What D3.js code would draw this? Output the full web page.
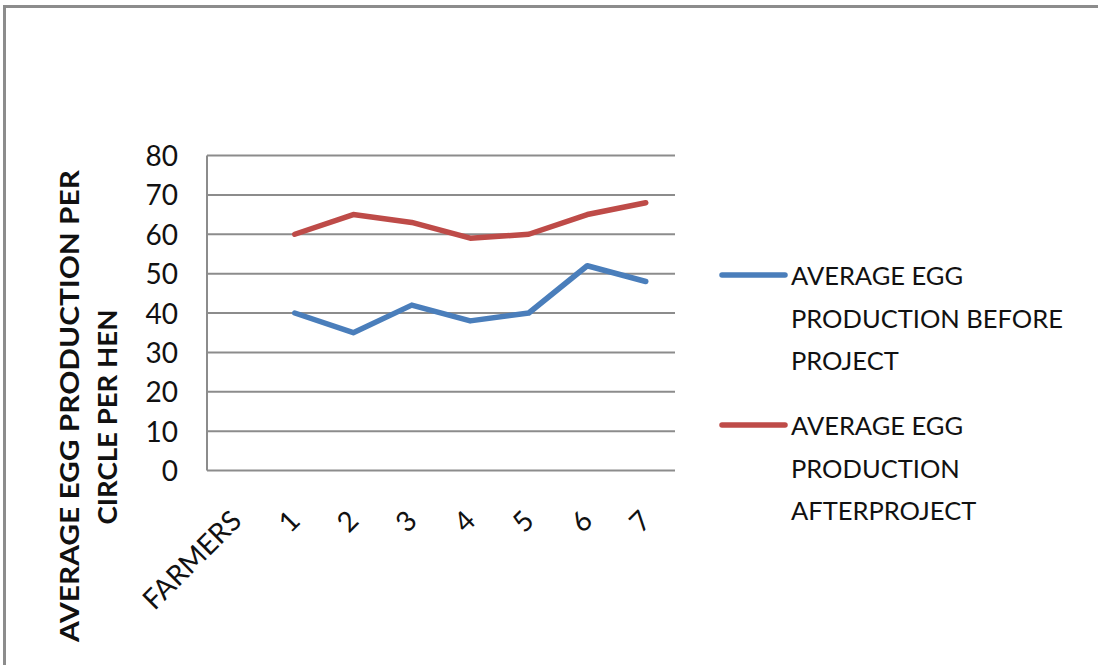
<!DOCTYPE html>
<html>
<head>
<meta charset="utf-8">
<script src="https://cdn.jsdelivr.net/npm/d3@7"></script>
<style>
  html, body { margin: 0; padding: 0; background: #fff; }
  svg { display: block; }
</style>
</head>
<body>
<svg id="chart" width="1098" height="665"></svg>
<script>
// Category axis: a header slot followed by the farmer numbers
const categories = ["FARMERS", "1", "2", "3", "4", "5", "6", "7"];
const farmers = ["1", "2", "3", "4", "5", "6", "7"];
const beforeProject = [40, 35, 42, 38, 40, 52, 48];
const afterProject = [60, 65, 63, 59, 60, 65, 68];
const yTicks = [0, 10, 20, 30, 40, 50, 60, 70, 80];
const seriesNames = [
  ["AVERAGE EGG", "PRODUCTION BEFORE", "PROJECT"],
  ["AVERAGE EGG", "PRODUCTION", "AFTERPROJECT"]
];
const yTitle = ["AVERAGE EGG PRODUCTION PER", "CIRCLE PER HEN"];

const colors = ["#4a7ebb", "#be4b48"];
const font = "Lato, 'Open Sans', sans-serif";

const svg = d3.select("#chart");

// outer frame
svg.append("rect")
  .attr("x", 4.5).attr("y", 6.5)
  .attr("width", 1200).attr("height", 800)
  .attr("fill", "none").attr("stroke", "#8c8c8c").attr("stroke-width", 3);

const plot = { left: 207, right: 675, top: 155.5, bottom: 470.5 };

const x = d3.scaleBand().domain(categories).range([plot.left, plot.right]).padding(0);
const y = d3.scaleLinear().domain([0, 80]).range([plot.bottom, plot.top]);

// horizontal gridlines
svg.append("g")
  .selectAll("line")
  .data(yTicks)
  .join("line")
  .attr("x1", plot.left).attr("x2", plot.right)
  .attr("y1", d => y(d)).attr("y2", d => y(d))
  .attr("stroke", "#8c8c8c").attr("stroke-width", 2);

// y axis line
svg.append("line")
  .attr("x1", plot.left).attr("x2", plot.left)
  .attr("y1", plot.top).attr("y2", plot.bottom)
  .attr("stroke", "#8c8c8c").attr("stroke-width", 2);

// y axis labels
const yAxis = d3.axisLeft(y).tickValues(yTicks).tickSize(0).tickPadding(29);
const yg = svg.append("g").attr("transform", `translate(${plot.left},0)`).call(yAxis);
yg.select(".domain").remove();
yg.selectAll("text")
  .attr("font-family", font).attr("font-size", 28).attr("fill", "#111")
  .attr("dy", "0.36em");

// x axis labels, rotated
const xAxis = d3.axisBottom(x).tickSize(0).tickPadding(0);
const xg = svg.append("g").attr("transform", `translate(0,${plot.bottom})`).call(xAxis);
xg.select(".domain").remove();
xg.selectAll("text")
  .attr("font-family", font).attr("font-size", 28).attr("fill", "#111")
  .attr("text-anchor", "end")
  .attr("dy", null).attr("y", 0)
  .attr("transform", "translate(7,52) rotate(-45)");

// series lines
const line = d3.line()
  .x((d, i) => x(farmers[i]) + x.bandwidth() / 2)
  .y(d => y(d));

[beforeProject, afterProject].forEach((vals, k) => {
  svg.append("path")
    .datum(vals)
    .attr("d", line)
    .attr("fill", "none")
    .attr("stroke", colors[k])
    .attr("stroke-width", 5.5)
    .attr("stroke-linejoin", "round")
    .attr("stroke-linecap", "round");
});

// legend
const legendY = [275, 425];
seriesNames.forEach((lines, k) => {
  const g = svg.append("g");
  g.append("line")
    .attr("x1", 722).attr("x2", 785)
    .attr("y1", legendY[k]).attr("y2", legendY[k])
    .attr("stroke", colors[k]).attr("stroke-width", 5.5)
    .attr("stroke-linecap", "round");
  g.selectAll("text")
    .data(lines)
    .join("text")
    .attr("x", 791)
    .attr("y", (d, i) => legendY[k] + 10 + i * 42.5)
    .attr("font-family", font).attr("font-size", 25.5).attr("fill", "#111")
    .text(d => d);
});

// y axis title, two rotated lines
const titleLen = [472, 215];
const tg = svg.append("text")
  .attr("transform", "rotate(-90)")
  .attr("font-family", font).attr("font-size", 26).attr("font-weight", "bold")
  .attr("fill", "#111").attr("text-anchor", "middle");
yTitle.forEach((t, i) => {
  tg.append("tspan")
    .attr("x", i === 0 ? -406 : -417)
    .attr("y", 79 + i * 38)
    .attr("textLength", titleLen[i])
    .attr("lengthAdjust", "spacingAndGlyphs")
    .text(t);
});
</script>
</body>
</html>
